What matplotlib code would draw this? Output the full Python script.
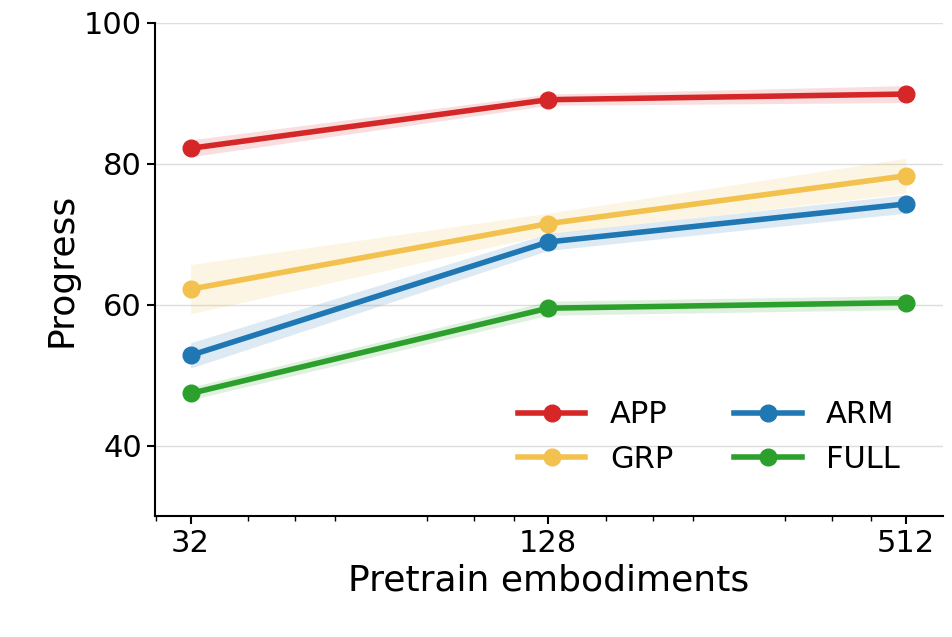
import matplotlib
matplotlib.use("Agg")
import matplotlib.pyplot as plt
from matplotlib.ticker import LogLocator, NullFormatter
import numpy as np

x = [32, 128, 512]
series = {
    "APP": [82.2, 89.1, 89.9],
    "GRP": [62.2, 71.5, 78.3],
    "ARM": [52.8, 68.9, 74.3],
    "FULL": [47.4, 59.5, 60.3],
}
errs = {
    "APP": [1.2, 0.8, 1.2],
    "GRP": [3.5, 1.5, 2.5],
    "ARM": [1.8, 1.2, 1.3],
    "FULL": [0.9, 1.0, 1.0],
}
colors = {"APP": "#d62728", "GRP": "#f2c14e", "ARM": "#1f77b4", "FULL": "#2ca02c"}

fig = plt.figure(figsize=(9.52, 6.37), dpi=100)
ax = fig.add_axes([0.163, 0.19, 0.8275, 0.774])
for k in ["APP", "GRP", "ARM", "FULL"]:
    y = np.array(series[k]); e = np.array(errs[k])
    ax.fill_between(x, y - e, y + e, color=colors[k], alpha=0.15, lw=0)
    ax.plot(x, y, "-o", color=colors[k], lw=4, ms=12, label=k)

ax.set_xscale("log", base=2)
ax.set_xlim(27.9, 591)
ax.set_xticks(x)
ax.set_xticklabels(["32", "128", "512"])
ax.xaxis.set_minor_locator(LogLocator(base=2, subs=[1.25, 1.5, 1.75]))
ax.xaxis.set_minor_formatter(NullFormatter())
ax.set_ylim(30, 100)
ax.set_yticks([40, 60, 80, 100])
ax.yaxis.grid(True, color="#dddddd", lw=1)
ax.set_axisbelow(True)
for s in ["top", "right"]:
    ax.spines[s].set_visible(False)
for s in ["left", "bottom"]:
    ax.spines[s].set_linewidth(1.5)
ax.tick_params(labelsize=22, width=1.5, length=6)
ax.tick_params(which="minor", width=1, length=3.5)
ax.set_xlabel("Pretrain embodiments", fontsize=26)
ax.set_ylabel("Progress", fontsize=26)
ax.legend(ncol=2, frameon=False, fontsize=22, loc="lower right", handlelength=2.2,
          columnspacing=2.0, bbox_to_anchor=(0.98, 0.03))
fig.savefig("out.png", dpi=100)
